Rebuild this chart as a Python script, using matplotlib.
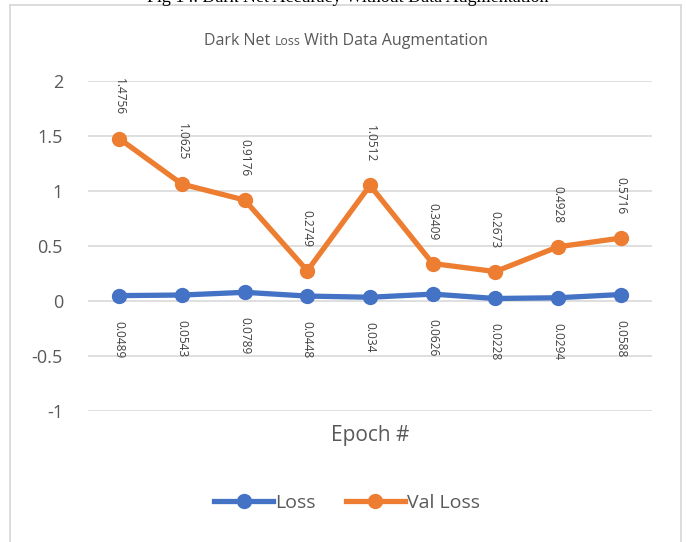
import matplotlib
matplotlib.use("Agg")
import matplotlib.pyplot as plt
from matplotlib.lines import Line2D

epochs = [1, 2, 3, 4, 5, 6, 7, 8, 9]
loss = [0.0489, 0.0543, 0.0789, 0.0448, 0.034, 0.0626, 0.0228, 0.0294, 0.0588]
val_loss = [1.4756, 1.0625, 0.9176, 0.2749, 1.0512, 0.3409, 0.2673, 0.4928, 0.5716]
yticks = [-1, -0.5, 0, 0.5, 1, 1.5, 2]
ytick_labels = ["-1", "-0.5", "0", "0.5", "1", "1.5", "2"]

W, H = 686, 542
fig = plt.figure(figsize=(W / 100, H / 100), dpi=100)
plt.rcParams['font.family'] = ['Open Sans', 'DejaVu Sans']

blue = "#4472C4"
orange = "#ED7D31"
grey = "#595959"
lblc = "#404040"

ax = fig.add_axes([88 / W, 1 - 411 / H, (652 - 88) / W, (411 - 81) / H])
x = list(range(len(epochs)))
ax.plot(x, loss, color=blue, lw=3.8, marker='o', ms=10, solid_capstyle='round', zorder=3)
ax.plot(x, val_loss, color=orange, lw=3.8, marker='o', ms=10, solid_capstyle='round', zorder=3)

for xi, v in zip(x, val_loss):
    ax.annotate(f"{v:g}", (xi, v), xytext=(0, 17), textcoords='offset points',
                rotation=-90, ha='center', va='bottom', fontsize=8.6, color=lblc)
for xi, v in zip(x, loss):
    ax.annotate(f"{v:g}", (xi, v), xytext=(0, -18), textcoords='offset points',
                rotation=-90, ha='center', va='top', fontsize=8.6, color=lblc)

ax.set_xlim(-0.5, len(x) - 0.5)
ax.set_ylim(-1, 2)
ax.set_yticks(yticks)
ax.set_yticklabels(ytick_labels, fontsize=13, color=grey)
ax.set_xticks([])
ax.tick_params(axis='y', length=0, pad=18)
for s in ax.spines.values():
    s.set_visible(False)
ax.grid(axis='y', color='#d9d9d9', lw=1.2)
ax.set_axisbelow(True)

fig.text(370 / W, 1 - 435 / H, "Epoch #", ha='center', va='center', fontsize=15, color=grey)

# title with smaller "Loss"
fig.canvas.draw()
r = fig.canvas.get_renderer()
parts = [("Dark Net ", 11.5), ("Loss", 8.8), (" With Data Augmentation", 11.5)]
texts = []
for s, fs in parts:
    t = fig.text(0, 1 - 45 / H, s, ha='left', va='baseline', fontsize=fs, color=grey)
    texts.append(t)
widths = [t.get_window_extent(r).width for t in texts]
total = sum(widths)
cur = 346 - total / 2
for t, w in zip(texts, widths):
    t.set_position((cur / W, 1 - 45 / H))
    cur += w

# clipped caption above chart (cut off at the top in the reference)
fig.text(348 / W, 1 + 3 / H, "Fig 14. Dark Net Accuracy Without Data Augmentation",
         ha='center', va='center', fontsize=13, family='Liberation Serif', color='black')

# chart border
bc = '#d9d9d9'
fig.add_artist(Line2D([10 / W, 10 / W], [0, 1 - 5 / H], color=bc, lw=1.3))
fig.add_artist(Line2D([681 / W, 681 / W], [0, 1 - 5 / H], color=bc, lw=1.3))
fig.add_artist(Line2D([10 / W, 681 / W], [1 - 5 / H, 1 - 5 / H], color=bc, lw=1.3))

handles = [Line2D([], [], color=blue, lw=3.8, marker='o', ms=10),
           Line2D([], [], color=orange, lw=3.8, marker='o', ms=10)]
leg = fig.legend(handles, ["Loss", "Val Loss"], loc='center', bbox_to_anchor=(347 / W, 1 - 503 / H),
                 ncol=2, frameon=False, fontsize=14, handlelength=3, handletextpad=0.1,
                 columnspacing=1.6)
for t in leg.get_texts():
    t.set_color(grey)

fig.savefig("out.png", dpi=100)
